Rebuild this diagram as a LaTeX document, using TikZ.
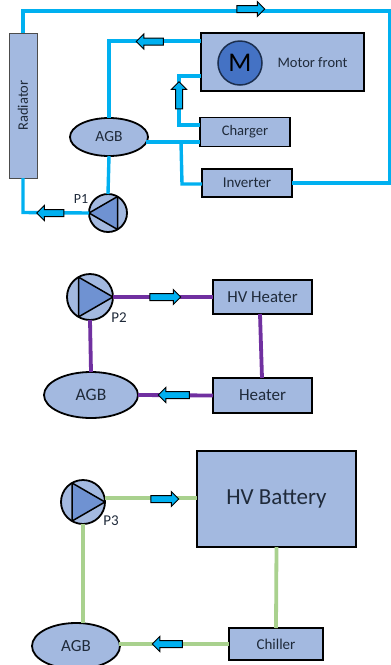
\documentclass[tikz,border=0pt]{standalone}
\usepackage{fontspec}
\setmainfont{Carlito}
\usetikzlibrary{shapes.geometric,shapes.arrows}
\definecolor{boxfill}{HTML}{A3B9E0}
\definecolor{motorblue}{HTML}{4472C4}
\definecolor{tri}{HTML}{6F92D2}
\definecolor{pipeblue}{HTML}{00B0F0}
\definecolor{pipepurple}{HTML}{7030A0}
\definecolor{pipegreen}{HTML}{A9D18E}
\definecolor{txt}{HTML}{1F2A3A}
\newcommand{\shaft}{\rule{0pt}{6pt}}
\tikzset{
  box/.style={draw=black,line width=1.8pt,fill=boxfill,rectangle,inner sep=0pt,outer sep=0pt,text=txt},
  oval/.style={draw=black,line width=1.8pt,fill=boxfill,ellipse,inner sep=0pt,outer sep=0pt,text=txt},
  pumpc/.style={draw=black,line width=1.8pt,fill=boxfill,circle,inner sep=0pt,outer sep=0pt,minimum size=#1},
  pumpt/.style={draw=black,line width=1.5pt,fill=tri,line join=round},
  flow/.style={draw=black,line width=1pt,fill=pipeblue,single arrow,inner sep=0pt,outer sep=0pt,
    single arrow head extend=4pt,single arrow head indent=0pt,minimum height=#1},
  pipeA/.style={draw=pipeblue,line width=3.4pt,line join=miter},
  pipeB/.style={draw=pipepurple,line width=3.8pt},
  pipeC/.style={draw=pipegreen,line width=3.8pt},
  lbl/.style={text=txt,inner sep=0pt}
}
\begin{document}
\begin{tikzpicture}[x=1pt,y=-1pt]
\useasboundingbox (0,0) rectangle (391,665);
% --- circuit 1
\node[box,line width=1pt,draw=black!70,minimum width=28pt,minimum height=145pt] (rad) at (23,105.5) {\rotatebox{90}{\fontsize{14.5}{14.5}\selectfont Radiator}};
\node[box,minimum width=163pt,minimum height=58pt] (motor) at (282.5,62) {};
\node[circle,draw=black!60!motorblue,line width=1.5pt,fill=motorblue,minimum size=44pt,inner sep=0pt] (mcirc) at (240,63) {\fontsize{27}{27}\selectfont M};
\node[lbl,font=\fontsize{14.5}{14.5}\selectfont] (mlabel) at (312.5,62.5) {Motor front};
\node[box,minimum width=90pt,minimum height=29pt,font=\fontsize{14.6}{14.6}\selectfont] (charger) at (245,132) {Charger};
\node[box,minimum width=90pt,minimum height=28pt,font=\fontsize{15}{15}\selectfont] (inverter) at (247,183) {Inverter};
\node[oval,minimum width=78pt,minimum height=38pt,font=\fontsize{15.5}{15.5}\selectfont] (agbA) at (109,137) {AGB};
\node[pumpc=38pt] (pA) at (108,213) {};
\draw[pumpt] (pA.180) -- (pA.60) -- (pA.-60) -- cycle;
\node[lbl,font=\fontsize{14}{14}\selectfont] (p1) at (81,198.5) {P1};
\coordinate (radtop) at (23,33);
\coordinate (radbot) at (23,178);
\coordinate (mtop) at (201,41);
\coordinate (mlow) at (201,76);
\coordinate (chtop) at (200,125);
\coordinate (chlow) at (200,142);
\coordinate (agbr) at (146,142);
\coordinate (invl) at (202,184);
\draw[pipeA] (radtop) -- (23,11) -- (390,11) -- (390,183) -- (inverter.east);
\draw[pipeA] (agbA.north) |- (mtop);
\draw[pipeA] (mlow) -- (179,76) -- (179,125) -- (chtop);
\draw[pipeA] (agbr) -- (chlow);
\draw[pipeA] (181,142) -- (182,184) -- (invl);
\draw[pipeA] (agbA.south) -- (pA.north);
\draw[pipeA] (pA.west) -- (23,212.5) -- (radbot);
\node[flow=28pt] (fa1) at (249,9) {\shaft};
\node[flow=27pt,rotate=180] (fa2) at (151.5,41.5) {\shaft};
\node[flow=27pt,rotate=90] (fa3) at (179,97) {\shaft};
\node[flow=27pt,rotate=180] (fa4) at (52,213) {\shaft};
% --- circuit 2
\node[box,minimum width=99pt,minimum height=34pt,font=\fontsize{16.8}{16.8}\selectfont] (hvh) at (262.5,297) {HV Heater};
\node[box,minimum width=99pt,minimum height=35pt,font=\fontsize{17}{17}\selectfont] (heater) at (262.5,395.5) {Heater};
\node[oval,minimum width=94pt,minimum height=46pt,font=\fontsize{17.5}{17.5}\selectfont] (agbB) at (91,395) {AGB};
\node[pumpc=46pt] (pB) at (90,297) {};
\draw[pumpt] (pB.0) -- (pB.120) -- (pB.-120) -- cycle;
\node[lbl,font=\fontsize{15}{15}\selectfont] (p2) at (119,318) {P2};
\draw[pipeB] (pB.east) -- (hvh.west);
\draw[pipeB] (260,314) -- (262,378);
\draw[pipeB] (heater.west) -- (agbB.east);
\draw[pipeB] (pB.south) -- (agbB.north);
\node[flow=31pt] (fb1) at (163.5,297) {\shaft};
\node[flow=31pt,rotate=180] (fb2) at (175.5,395) {\shaft};
% --- circuit 3
\node[box,minimum width=159pt,minimum height=96pt,font=\fontsize{23}{23}\selectfont] (batt) at (276.5,499) {HV Battery};
\node[box,minimum width=94pt,minimum height=32pt,font=\fontsize{15}{15}\selectfont] (chill) at (276,644) {Chiller};
\node[oval,minimum width=88pt,minimum height=46pt,font=\fontsize{17}{17}\selectfont] (agbC) at (76,646) {AGB};
\node[pumpc=44pt] (pC) at (83,502) {};
\draw[pumpt] (pC.0) -- (pC.120) -- (pC.-120) -- cycle;
\node[lbl,font=\fontsize{15}{15}\selectfont] (p3) at (111,521) {P3};
\coordinate (pCr) at (105,498);
\coordinate (battl) at (197,498);
\coordinate (agbCr) at (119,644);
\draw[pipeC] (pCr) -- (battl);
\draw[pipeC] (batt.south) -- (chill.north);
\draw[pipeC] (chill.west) -- (agbCr);
\draw[pipeC] (pC.south) -- (83,623);
\node[flow=28pt] (fc1) at (163,499) {\shaft};
\node[flow=30pt,rotate=180] (fc2) at (169,644) {\shaft};
\end{tikzpicture}
\end{document}
